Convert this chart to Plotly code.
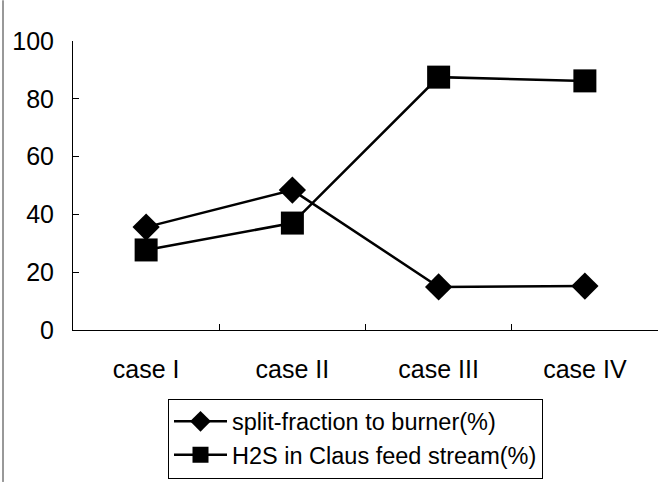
import plotly.graph_objects as go

categories = ["case I", "case II", "case III", "case IV"]
split_fraction = [35.6, 48.4, 14.9, 15.2]
h2s_claus = [27.7, 37.0, 87.5, 86.2]
y_ticks = [0, 20, 40, 60, 80, 100]

fig = go.Figure()
fig.add_trace(go.Scatter(
    x=categories, y=split_fraction, mode="lines+markers",
    name="split-fraction to burner(%)",
    line=dict(color="black", width=2.5),
    marker=dict(symbol="diamond", size=21, color="black"),
))
fig.add_trace(go.Scatter(
    x=categories, y=h2s_claus, mode="lines+markers",
    name="H2S in Claus feed stream(%)",
    line=dict(color="black", width=2.5),
    marker=dict(symbol="square", size=23, color="black"),
))

L, R, T, B = 73, 7, 41, 153
W, H = 665, 485
pw, ph = W - L - R, H - T - B

fig.update_layout(
    width=W, height=H,
    margin=dict(l=L, r=R, t=T, b=B, pad=0),
    paper_bgcolor="white", plot_bgcolor="white",
    font=dict(family="Liberation Sans, Arial, sans-serif", color="black", size=24),
    showlegend=True,
    legend=dict(
        x=(168 - L) / pw, y=(H - B - 401) / ph, xanchor="left", yanchor="top",
        bordercolor="black", borderwidth=1, bgcolor="white",
        font=dict(size=23.5), itemwidth=53, tracegroupgap=0,
    ),
    xaxis=dict(
        type="category", showgrid=False, showline=True, linecolor="black", linewidth=1,
        ticks="inside", tickson="boundaries", ticklen=6, tickcolor="black",
        ticklabelstandoff=17, tickfont=dict(size=25),
        range=[-0.5, 3.5],
    ),
    yaxis=dict(
        range=[0, 100], tickvals=y_ticks, showgrid=False, zeroline=False,
        showline=True, linecolor="black", linewidth=1,
        ticks="inside", ticklen=6, tickcolor="black",
        ticklabelstandoff=13, tickfont=dict(size=25),
    ),
    shapes=[dict(
        type="line", xref="paper", yref="paper",
        x0=(3 - L) / pw, x1=(3 - L) / pw,
        y0=(H - B - 0) / ph, y1=(H - B - H) / ph,
        line=dict(color="#333333", width=1),
    )],
)

fig.write_html(
    "out.html",
    config={"displayModeBar": False},
    post_script="document.body.style.margin='0';document.body.style.overflow='hidden';",
)
